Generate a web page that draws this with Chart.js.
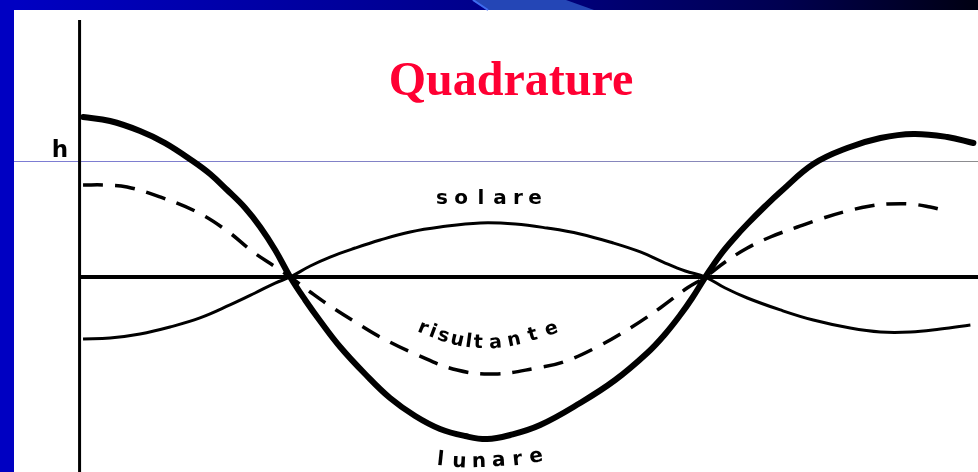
<!DOCTYPE html>
<html>
<head>
<meta charset="utf-8">
<script src="https://cdn.jsdelivr.net/npm/chart.js@4.4.1/dist/chart.umd.min.js"></script>
<style>
  html, body { margin: 0; padding: 0; background: #fff; }
  canvas { display: block; }
</style>
</head>
<body>
<canvas id="c" width="978" height="472"></canvas>
<script>
// phase of the Moon in degrees (x) and tide height in units of h (y)
const lunareX = [0, 11.7, 24.7, 35.6, 47.7, 55.1, 62.5, 70.3, 76.8, 83.3, 89.8, 96.3, 102.8, 111.5, 122.3, 133.1, 144.0, 154.8, 165.7, 175.2, 185.2, 198.2, 215.5, 230.7, 244.6, 252.4, 258.9, 264.1, 269.8, 276.3, 282.8, 288.0, 295.8, 302.3, 316.6, 331.3, 345.7, 360.0, 374.7, 386.0];
const lunareY = [1.379, 1.345, 1.259, 1.155, 0.998, 0.888, 0.750, 0.595, 0.431, 0.233, 0, -0.198, -0.379, -0.603, -0.836, -1.043, -1.198, -1.310, -1.371, -1.397, -1.362, -1.276, -1.086, -0.888, -0.655, -0.491, -0.328, -0.181, 0, 0.190, 0.345, 0.457, 0.612, 0.733, 0.974, 1.112, 1.198, 1.233, 1.207, 1.155];

const solareX = [0, 11.7, 24.7, 37.7, 50.7, 63.7, 74.6, 83.3, 89.8, 98.5, 107.1, 118.0, 128.8, 141.8, 154.8, 172.2, 187.4, 201.2, 215.5, 229.9, 241.6, 251.5, 261.1, 269.8, 278.4, 288.0, 302.3, 316.6, 332.6, 345.7, 358.7, 371.7, 384.7];
const solareY = [-0.534, -0.526, -0.491, -0.431, -0.353, -0.241, -0.138, -0.052, 0, 0.095, 0.172, 0.250, 0.319, 0.388, 0.431, 0.466, 0.457, 0.422, 0.371, 0.293, 0.216, 0.129, 0.052, 0, -0.095, -0.181, -0.284, -0.371, -0.440, -0.474, -0.474, -0.448, -0.414];

const risultanteX = [0, 9.5, 19.1, 33.4, 49.4, 62.5, 73.7, 84.1, 89.8, 98.5, 107.1, 118.0, 128.8, 144.9, 162.2, 178.7, 196.9, 208.2, 222.9, 237.2, 250.2, 261.9, 269.8, 278.4, 288.0, 298.0, 309.7, 319.6, 331.3, 341.3, 348.7, 358.7, 367.3, 372.5];
const risultanteY = [0.793, 0.793, 0.776, 0.690, 0.560, 0.397, 0.216, 0.078, 0, -0.129, -0.250, -0.388, -0.517, -0.672, -0.802, -0.836, -0.784, -0.733, -0.603, -0.440, -0.267, -0.095, 0, 0.129, 0.250, 0.345, 0.431, 0.500, 0.569, 0.612, 0.629, 0.629, 0.603, 0.578];

const titleText = 'Quadrature';
const axisLabel = 'h';
const seriesNames = ['lunare', 'solare', 'risultante'];

function pts(xs, ys) { return xs.map((x, i) => ({ x: x, y: ys[i] })); }

const slidePlugin = {
  id: 'slide',
  beforeDraw(chart) {
    const ctx = chart.ctx, W = chart.width, H = chart.height;
    ctx.save();
    ctx.fillStyle = '#ffffff';
    ctx.fillRect(0, 0, W, H);
    const g = ctx.createLinearGradient(0, 0, W, 0);
    g.addColorStop(0, '#0000c4');
    g.addColorStop(0.5, '#00008a');
    g.addColorStop(0.8, '#000050');
    g.addColorStop(1, '#000012');
    ctx.fillStyle = g;
    ctx.fillRect(0, 0, W, 10);
    ctx.fillStyle = '#2446b6';
    ctx.beginPath();
    ctx.moveTo(472, 0); ctx.lineTo(566, 0); ctx.lineTo(594, 10); ctx.lineTo(487, 10);
    ctx.closePath(); ctx.fill();
    ctx.strokeStyle = '#3f6cf0'; ctx.lineWidth = 2;
    ctx.beginPath(); ctx.moveTo(473, 0); ctx.lineTo(488, 10); ctx.stroke();
    ctx.fillStyle = '#0000c2';
    ctx.fillRect(0, 0, 14, H);
    ctx.restore();
  },
  beforeDatasetsDraw(chart) {
    const ctx = chart.ctx, xs = chart.scales.x, ys = chart.scales.y;
    const x0 = xs.getPixelForValue(-1.5);
    const yZero = ys.getPixelForValue(0);
    const yH = ys.getPixelForValue(1);
    ctx.save();
    const g = ctx.createLinearGradient(14, 0, chart.width, 0);
    g.addColorStop(0, '#7c7cd4');
    g.addColorStop(0.85, '#8a8ab4');
    g.addColorStop(1, '#8c8c8c');
    ctx.strokeStyle = g; ctx.lineWidth = 1;
    ctx.beginPath(); ctx.moveTo(14, yH + 0.5); ctx.lineTo(chart.width, yH + 0.5); ctx.stroke();
    ctx.strokeStyle = '#000'; ctx.lineCap = 'butt';
    ctx.lineWidth = 3;
    ctx.beginPath(); ctx.moveTo(x0, 20); ctx.lineTo(x0, chart.height); ctx.stroke();
    ctx.lineWidth = 4;
    ctx.beginPath(); ctx.moveTo(x0, yZero); ctx.lineTo(xs.getPixelForValue(388), yZero); ctx.stroke();
    ctx.restore();
  },
  afterDraw(chart) {
    const ctx = chart.ctx;
    ctx.save();
    ctx.fillStyle = '#ff0033';
    ctx.font = 'bold 48px "Liberation Serif", "Times New Roman", serif';
    ctx.textAlign = 'center'; ctx.textBaseline = 'alphabetic';
    ctx.fillText(titleText, 511, 95);
    ctx.fillStyle = '#000';
    ctx.font = 'bold 23px "DejaVu Sans", sans-serif';
    ctx.fillText(axisLabel, 60, 157);
    function spaced(text, positions, size) {
      ctx.font = 'bold ' + size + 'px "DejaVu Sans", sans-serif';
      ctx.textAlign = 'center';
      const n = Math.min(text.length, positions.length);
      for (let i = 0; i < n; i++) {
        const p = positions[i];
        const prev = positions[Math.max(0, i - 1)], next = positions[Math.min(n - 1, i + 1)];
        const ang = Math.atan2(next[1] - prev[1], next[0] - prev[0]);
        ctx.save();
        ctx.translate(p[0], p[1]);
        ctx.rotate(ang);
        ctx.fillText(text[i], 0, 0);
        ctx.restore();
      }
    }
    spaced(seriesNames[1], [[442, 204], [461, 204], [481, 204], [500, 204], [518, 204], [535, 204]], 20);
    spaced(seriesNames[0], [[440, 465], [459, 467], [479, 467], [499, 466], [518, 465], [537, 462]], 20);
    spaced(seriesNames[2], [[421, 333], [431, 337], [442, 341], [456, 345], [468, 347], [478, 348], [496, 348], [515, 345], [534, 340], [553, 334]], 19);
    ctx.restore();
  }
};

new Chart(document.getElementById('c'), {
  type: 'line',
  data: {
    datasets: [
      { label: seriesNames[0], data: pts(lunareX, lunareY), borderColor: '#000', borderWidth: 6, pointRadius: 0, tension: 0.4, fill: false, borderCapStyle: 'round' },
      { label: seriesNames[1], data: pts(solareX, solareY), borderColor: '#000', borderWidth: 3, pointRadius: 0, tension: 0.4, fill: false },
      { label: seriesNames[2], data: pts(risultanteX, risultanteY), borderColor: '#000', borderWidth: 3.5, pointRadius: 0, tension: 0.4, fill: false, borderDash: [20, 12] }
    ]
  },
  options: {
    responsive: false,
    devicePixelRatio: 1,
    animation: false,
    events: [],
    layout: { padding: 0 },
    plugins: { legend: { display: false }, tooltip: { enabled: false }, title: { display: false } },
    scales: {
      x: { type: 'linear', min: -36, max: 388, display: false },
      y: { type: 'linear', min: -1.681, max: 2.388, display: false }
    }
  },
  plugins: [slidePlugin]
});
</script>
</body>
</html>
